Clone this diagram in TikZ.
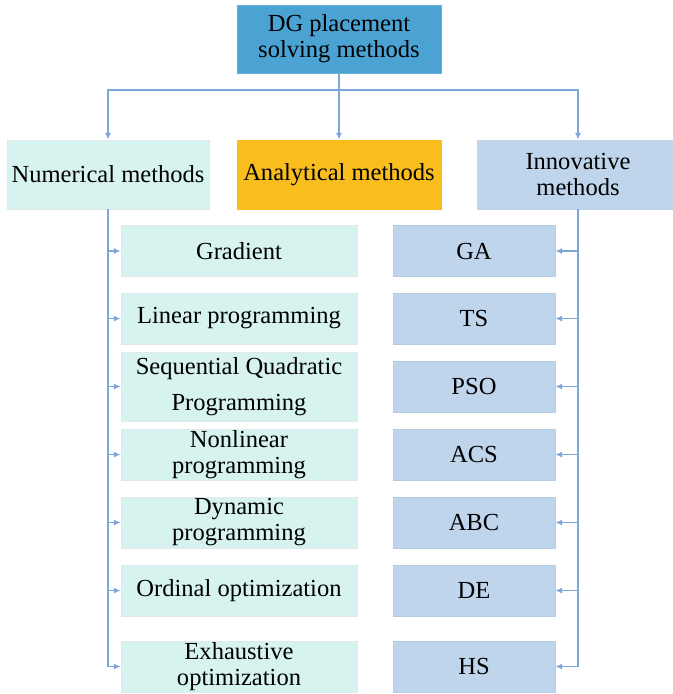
\documentclass[tikz,border=0pt]{standalone}
\usepackage{fontspec}
\setmainfont{Liberation Serif}
\usetikzlibrary{arrows.meta}
\definecolor{topblue}{RGB}{75,163,211}
\definecolor{numcyan}{RGB}{214,243,240}
\definecolor{anaorange}{RGB}{249,190,30}
\definecolor{innblue}{RGB}{190,213,236}
\definecolor{linkblue}{RGB}{125,167,217}
\definecolor{tipblue}{RGB}{85,140,205}
\definecolor{edgegrey}{RGB}{225,232,236}
\tikzset{
  box/.style={rectangle, draw=edgegrey, line width=0.6pt, align=center, inner sep=0pt,
    font=\fontsize{18.4}{19.5}\selectfont, text=black},
  rootbox/.style={box, fill=topblue, draw=topblue!85!white, minimum width=153pt, minimum height=51pt},
  catnum/.style={box, fill=numcyan, minimum width=151.5pt, minimum height=51.75pt},
  catana/.style={box, fill=anaorange, draw=anaorange, minimum width=153pt, minimum height=51.75pt},
  catinn/.style={box, fill=innblue, draw=innblue, minimum width=151.5pt, minimum height=51.75pt},
  leftbox/.style={box, fill=numcyan, minimum width=177pt, minimum height=38.25pt},
  rightbox/.style={box, fill=innblue, draw=innblue!90!gray, minimum width=121.5pt, minimum height=38.25pt},
  conn/.style={draw=linkblue, line width=1pt, -{Latex[length=5pt,width=4.5pt,fill=tipblue]}},
  plain/.style={draw=linkblue, line width=1pt}
}
\begin{document}
\begin{tikzpicture}[x=0.75pt, y=-0.75pt]
  \useasboundingbox (0,0) rectangle (673,694);
  \fill[white] (0,0) rectangle (673,694);

  % root and the three families
  \node[rootbox] (root) at (339,39) {DG placement\\solving methods};
  \node[catnum] (num) at (108,174.5) {Numerical methods};
  \node[catana] (ana) at (339,174.5) {Analytical methods};
  \node[catinn] (inn) at (578,174.5) {Innovative\\methods};

  % numerical methods
  \node[leftbox] (grad) at (239,251) {Gradient};
  \node[leftbox] (lp) at (239,318.5) {Linear programming};
  \node[leftbox, minimum height=51.75pt] (sqp) at (239,386.5)
    {Sequential Quadratic\\[8pt]Programming};
  \node[leftbox] (nlp) at (239,454.5) {Nonlinear\\programming};
  \node[leftbox] (dp) at (239,522.5) {Dynamic\\programming};
  \node[leftbox] (oo) at (239,590.5) {Ordinal optimization};
  \node[leftbox] (eo) at (239,666.5) {Exhaustive\\optimization};

  % innovative methods
  \node[rightbox] (ga) at (474,251) {GA};
  \node[rightbox] (ts) at (474,318.5) {TS};
  \node[rightbox] (pso) at (474,386.5) {PSO};
  \node[rightbox] (acs) at (474,454.5) {ACS};
  \node[rightbox] (abc) at (474,522.5) {ABC};
  \node[rightbox] (de) at (474,590.5) {DE};
  \node[rightbox] (hs) at (474,666.5) {HS};

  % top-level branching
  \coordinate (split) at (339,90);
  \draw[plain] (root.south) -- (split);
  \draw[conn] (split) -| (num.north);
  \draw[conn] (split) -- (ana.north);
  \draw[conn] (split) -| (inn.north);

  % numerical spine
  \foreach \b in {grad,lp,sqp,nlp,dp,oo,eo}
    \draw[conn] (num.south) |- (\b.west);

  % innovative spine
  \foreach \b in {ga,ts,pso,acs,abc,de,hs}
    \draw[conn] (inn.south) |- (\b.east);
\end{tikzpicture}
\end{document}
